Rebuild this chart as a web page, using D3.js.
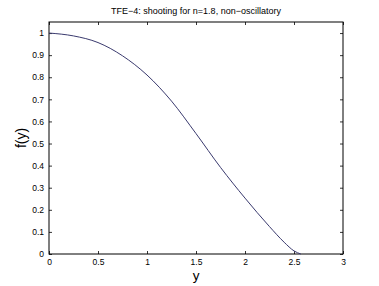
<!DOCTYPE html>
<html><head><meta charset="utf-8">
<script src="https://cdn.jsdelivr.net/npm/d3@7"></script>
<style>body{margin:0;background:#fff}svg{display:block}text{font-family:"Liberation Sans",Arial,sans-serif}</style>
</head><body><svg id="c" width="379" height="286"></svg>
<script>
const yVals = [0, 0.25, 0.5, 0.75, 1.0, 1.25, 1.5, 1.75, 2.0, 2.25, 2.4, 2.5, 2.57];
const fVals = [1.0, 0.987, 0.957, 0.897, 0.81, 0.692, 0.545, 0.392, 0.253, 0.124, 0.053, 0.014, 0];
const xTicks = [0, 0.5, 1, 1.5, 2, 2.5, 3];
const yTicks = [0, 0.1, 0.2, 0.3, 0.4, 0.5, 0.6, 0.7, 0.8, 0.9, 1];
const title = "TFE\u22124: shooting for n=1.8, non\u2212oscillatory";

const m = {l: 49, r: 343, t: 22, b: 254};
const svg = d3.select("#c");
const x = d3.scaleLinear().domain([0, 3]).range([m.l, m.r]);
const y = d3.scaleLinear().domain([0, 1.05]).range([m.b, m.t]);
const fmt = d => String(d);

function styleAxis(g){
  g.select(".domain").remove();
  g.selectAll("line").attr("stroke", "#000").attr("stroke-width", 0.8);
  g.selectAll("text").attr("font-size", 8.5).attr("fill", "#000");
}
svg.append("g").attr("transform", `translate(0,${m.b})`)
  .call(d3.axisBottom(x).tickValues(xTicks).tickFormat(fmt).tickSizeInner(-3).tickSizeOuter(0).tickPadding(5))
  .call(styleAxis);
svg.append("g").attr("transform", `translate(0,${m.t})`)
  .call(d3.axisTop(x).tickValues(xTicks).tickFormat("").tickSizeInner(-3).tickSizeOuter(0))
  .call(styleAxis);
svg.append("g").attr("transform", `translate(${m.l},0)`)
  .call(d3.axisLeft(y).tickValues(yTicks).tickFormat(fmt).tickSizeInner(-3).tickSizeOuter(0).tickPadding(5))
  .call(styleAxis);
svg.append("g").attr("transform", `translate(${m.r},0)`)
  .call(d3.axisRight(y).tickValues(yTicks).tickFormat("").tickSizeInner(-3).tickSizeOuter(0))
  .call(styleAxis);

svg.append("rect").attr("x", m.l).attr("y", m.t).attr("width", m.r - m.l).attr("height", m.b - m.t)
  .attr("fill", "none").attr("stroke", "#000").attr("stroke-width", 1);

const pts = yVals.map((v, i) => [v, fVals[i]]);
svg.append("path").datum(pts)
  .attr("fill", "none").attr("stroke", "#3a3a6e").attr("stroke-width", 1)
  .attr("d", d3.line().x(d => x(d[0])).y(d => y(d[1])).curve(d3.curveMonotoneX));

svg.append("text").attr("x", (m.l + m.r) / 2).attr("y", 14).attr("text-anchor", "middle")
  .attr("font-size", 9).text(title);
svg.append("text").attr("x", (m.l + m.r) / 2).attr("y", 279.5).attr("text-anchor", "middle")
  .attr("font-size", 13.5).text("y");
svg.append("text").attr("transform", `translate(26,${(m.t + m.b) / 2}) rotate(-90)`).attr("text-anchor", "middle")
  .attr("font-size", 14).text("f(y)");
</script></body></html>
